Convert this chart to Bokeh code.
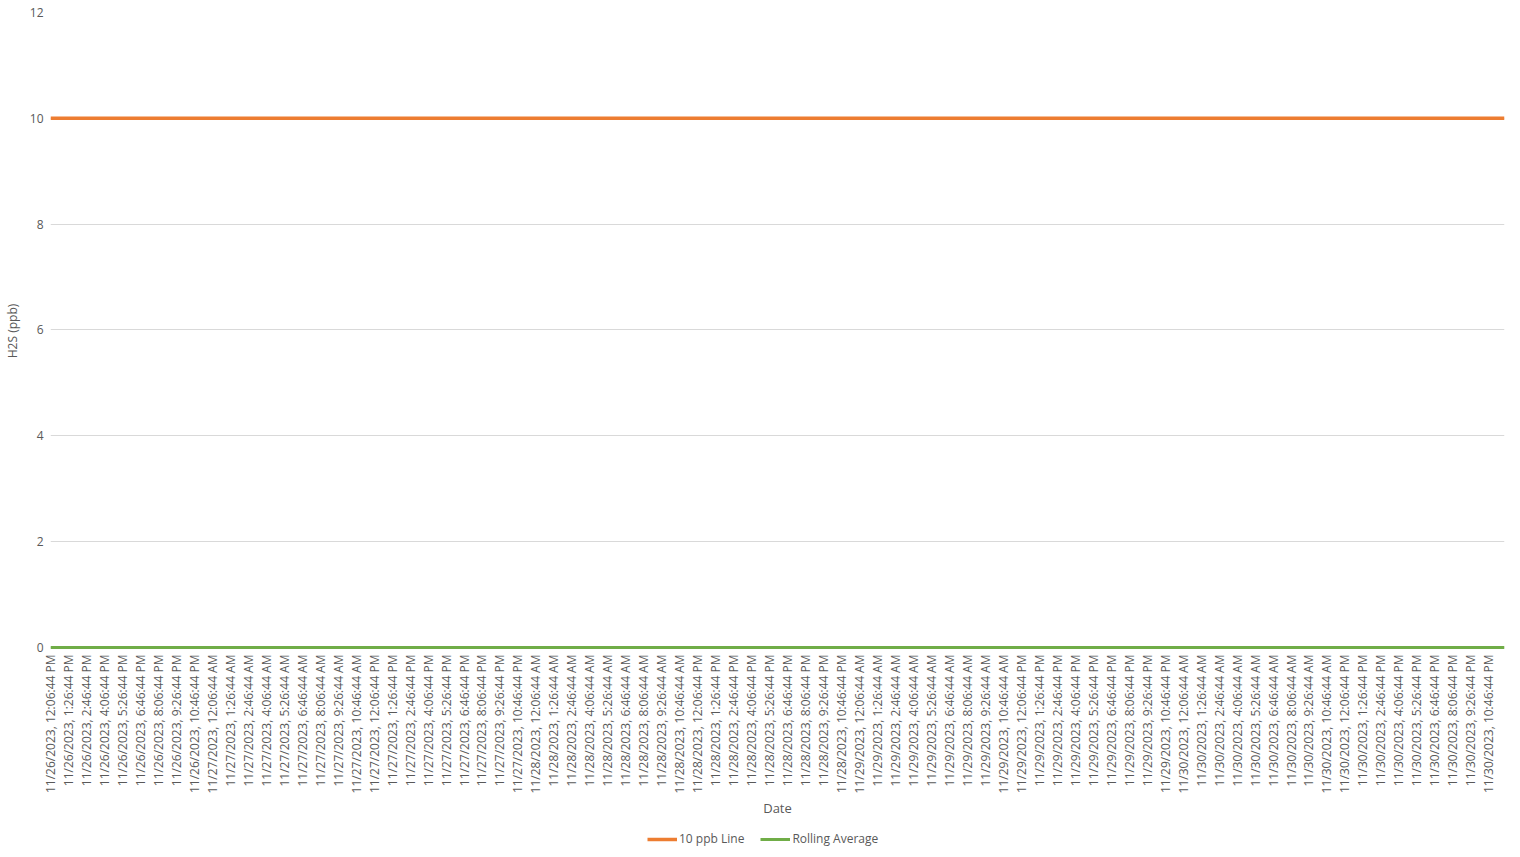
import pandas as pd
from bokeh.plotting import figure
from bokeh.models import FixedTicker, Legend, LegendItem, ColumnDataSource, Range1d
from bokeh.layouts import column
from bokeh.embed import file_html
from bokeh.resources import INLINE
import math

# ---- data ----
start_time = "2023-11-26 12:06:44"
sample_minutes = 10
n_points = 648
timestamps = pd.date_range(start=start_time, periods=n_points, freq=f"{sample_minutes}min")

def fmt(d):
    h = d.hour % 12
    if h == 0:
        h = 12
    ap = "AM" if d.hour < 12 else "PM"
    return f"{d.month}/{d.day}/{d.year}, {h}:{d.minute:02d}:{d.second:02d} {ap}"

date_labels = [fmt(d) for d in timestamps]
limit_ppb = [10.0] * n_points          # 10 ppb Line
rolling_average = [0.0] * n_points     # Rolling Average
series_names = ["10 ppb Line", "Rolling Average"]
series_colors = ["#ED7D31", "#70AD47"]
label_every = 8
y_ticks = [0, 2, 4, 6, 8, 10, 12]

idx = list(range(n_points))
src = ColumnDataSource(dict(x=idx, limit=limit_ppb, roll=rolling_average, label=date_labels))

FONT = "Open Sans"
GREY = "#595959"

p = figure(frame_width=1454, frame_height=637, output_backend="svg", toolbar_location=None,
           x_range=Range1d(0, n_points - 1), y_range=Range1d(-0.04, 12),
           min_border_left=0, min_border_right=15, min_border_top=12, min_border_bottom=0)
p.outline_line_color = None
p.background_fill_color = "white"
p.border_fill_color = "white"

r1 = p.line("x", "limit", source=src, line_color=series_colors[0], line_width=3.5)
r2 = p.line("x", "roll", source=src, line_color=series_colors[1], line_width=3)

# x axis
tick_pos = list(range(0, n_points, label_every))
p.xaxis.ticker = FixedTicker(ticks=tick_pos)
p.xaxis.major_label_overrides = {i: date_labels[i] for i in tick_pos}
p.xaxis.major_label_orientation = math.pi / 2
p.xaxis.major_label_text_font = FONT
p.xaxis.major_label_text_font_size = "12px"
p.xaxis.major_label_text_color = GREY
p.xaxis.axis_line_color = None
p.xaxis.major_tick_line_color = None
p.xaxis.minor_tick_line_color = None
p.xaxis.major_tick_out = 0
p.xaxis.major_tick_in = 0
p.xaxis.major_label_standoff = 5
p.xaxis.axis_label = "Date"
p.xaxis.axis_label_text_font = FONT
p.xaxis.axis_label_text_font_size = "13px"
p.xaxis.axis_label_text_font_style = "normal"
p.xaxis.axis_label_text_color = GREY
p.xaxis.axis_label_standoff = 3
p.xgrid.grid_line_color = None

# y axis
p.yaxis.ticker = FixedTicker(ticks=y_ticks)
p.yaxis.major_label_text_font = FONT
p.yaxis.major_label_text_font_size = "12px"
p.yaxis.major_label_text_color = GREY
p.yaxis.axis_line_color = None
p.yaxis.major_tick_line_color = None
p.yaxis.minor_tick_line_color = None
p.yaxis.major_tick_out = 0
p.yaxis.major_tick_in = 0
p.yaxis.major_label_standoff = 7
p.yaxis.axis_label = "H2S (ppb)"
p.yaxis.axis_label_text_font = FONT
p.yaxis.axis_label_text_font_size = "12px"
p.yaxis.axis_label_text_font_style = "normal"
p.yaxis.axis_label_text_color = GREY
p.yaxis.axis_label_standoff = 6
p.ygrid.grid_line_color = "#D9D9D9"
p.ygrid.grid_line_width = 1

# legend drawn in a small transparent strip below the chart
lg = figure(width=1520, height=30, output_backend="svg", toolbar_location=None,
            x_range=Range1d(0, 1), y_range=Range1d(0, 1),
            min_border=0, margin=(4, 0, 0, 0))
lg.axis.visible = False
lg.grid.grid_line_color = None
lg.outline_line_color = None
lg.background_fill_alpha = 0
lg.border_fill_alpha = 0
# legend-proxy renderers, placed outside the visible range of the strip
d1 = lg.line([-5, -4], [-5, -5], line_color=series_colors[0], line_width=3.5)
d2 = lg.line([-5, -4], [-5, -5], line_color=series_colors[1], line_width=3)
legend = Legend(items=[LegendItem(label=series_names[0], renderers=[d1]),
                       LegendItem(label=series_names[1], renderers=[d2])],
                orientation="horizontal", location=(597, 7),
                label_text_font=FONT, label_text_font_size="12px", label_text_color=GREY,
                glyph_width=30, glyph_height=12, spacing=16, label_standoff=2,
                border_line_color=None, background_fill_alpha=0, margin=0, padding=2)
lg.add_layout(legend, "center")

layout = column(p, lg, spacing=0)
open("out.html", "w").write(file_html(layout, INLINE))
